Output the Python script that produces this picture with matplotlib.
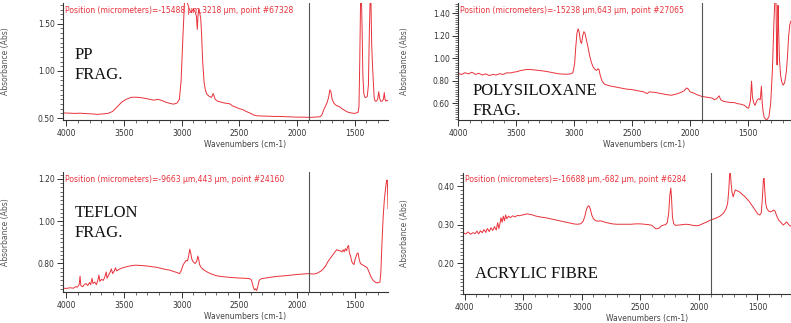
import numpy as np
import matplotlib
matplotlib.use('Agg')
import matplotlib.pyplot as plt
from matplotlib.ticker import MultipleLocator, FormatStrFormatter

# ---- spectra (wavenumber cm-1, absorbance) ----
pp_wn = [4030, 3980, 3930, 3880, 3830, 3780, 3730, 3680, 3640, 3600, 3560, 3520, 3480, 3440,
         3400, 3360, 3320, 3280, 3240, 3210, 3180, 3140, 3100, 3070, 3040, 3020, 3005, 2990,
         2975, 2960, 2945, 2930, 2915, 2900, 2885, 2872, 2865, 2858, 2850, 2842, 2835, 2828,
         2818, 2806, 2795, 2780, 2760, 2740, 2728, 2720, 2710, 2690, 2660, 2630, 2600, 2580,
         2560, 2530, 2500, 2470, 2440, 2410, 2380, 2350, 2300, 2250, 2200, 2150, 2100, 2050,
         2000, 1950, 1900, 1850, 1800, 1785, 1770, 1755, 1740, 1725, 1715, 1705, 1695, 1680,
         1665, 1650, 1630, 1610, 1590, 1570, 1550, 1530, 1500, 1470, 1462, 1455, 1448, 1440,
         1434, 1428, 1420, 1410, 1400, 1390, 1380, 1372, 1365, 1358, 1352, 1345, 1338, 1330,
         1322, 1310, 1300, 1290, 1284, 1275, 1260, 1250, 1242, 1236, 1228, 1220, 1212]
pp_abs = [0.555, 0.553, 0.55, 0.552, 0.548, 0.545, 0.54, 0.545, 0.55, 0.57, 0.62, 0.67, 0.70, 0.72,
          0.722, 0.718, 0.71, 0.70, 0.69, 0.70, 0.69, 0.67, 0.655, 0.648, 0.66, 0.70, 0.90, 1.35,
          1.75, 1.75, 1.70, 1.64, 1.62, 1.66, 1.63, 1.58, 1.44, 1.60, 1.66, 1.60, 1.56, 1.40,
          1.10, 0.88, 0.80, 0.75, 0.73, 0.72, 0.76, 0.74, 0.70, 0.68, 0.67, 0.66, 0.655, 0.65,
          0.63, 0.615, 0.60, 0.59, 0.57, 0.555, 0.535, 0.525, 0.522, 0.52, 0.518, 0.518, 0.515, 0.513,
          0.51, 0.51, 0.508, 0.51, 0.515, 0.53, 0.58, 0.62, 0.66, 0.72, 0.80, 0.78, 0.70, 0.66,
          0.64, 0.63, 0.62, 0.60, 0.585, 0.57, 0.56, 0.555, 0.55, 0.56, 0.62, 1.10, 1.75, 1.75,
          1.40, 0.95, 0.76, 0.72, 0.72, 0.73, 0.85, 1.40, 1.75, 1.75, 1.30, 1.07, 0.90, 0.72,
          0.68, 0.68, 0.70, 0.78, 0.72, 0.68, 0.68, 0.70, 0.77, 0.70, 0.68, 0.69, 0.685]

si_wn = [4000, 3970, 3940, 3910, 3880, 3850, 3820, 3790, 3760, 3730, 3700, 3670, 3640, 3610,
         3580, 3550, 3520, 3490, 3460, 3430, 3400, 3370, 3340, 3300, 3260, 3220, 3180, 3140,
         3100, 3060, 3030, 3010, 2995, 2985, 2975, 2965, 2955, 2945, 2935, 2925, 2915, 2905,
         2895, 2880, 2865, 2850, 2835, 2820, 2805, 2795, 2785, 2775, 2760, 2740, 2700, 2650,
         2600, 2550, 2500, 2450, 2400, 2370, 2350, 2300, 2250, 2200, 2160, 2120, 2080, 2050,
         2030, 2015, 2000, 1970, 1940, 1900, 1870, 1840, 1810, 1790, 1770, 1750, 1735, 1710,
         1680, 1650, 1620, 1590, 1560, 1530, 1510, 1495, 1480, 1470, 1462, 1450, 1440, 1425,
         1410, 1395, 1385, 1378, 1370, 1360, 1345, 1335, 1320, 1305, 1290, 1278, 1268, 1260,
         1254, 1250, 1246, 1242, 1238, 1230, 1220, 1210, 1198, 1185, 1170, 1160, 1150, 1140, 1130]
si_abs = [0.865, 0.855, 0.87, 0.86, 0.875, 0.855, 0.865, 0.85, 0.86, 0.845, 0.855, 0.85, 0.862, 0.855,
          0.87, 0.868, 0.875, 0.88, 0.89, 0.895, 0.90, 0.898, 0.895, 0.89, 0.885, 0.878, 0.87, 0.862,
          0.858, 0.857, 0.86, 0.87, 0.95, 1.10, 1.22, 1.26, 1.23, 1.15, 1.13, 1.20, 1.235, 1.22,
          1.17, 1.10, 1.02, 0.96, 0.92, 0.90, 0.89, 0.905, 0.90, 0.85, 0.80, 0.77, 0.755, 0.745,
          0.735, 0.725, 0.72, 0.71, 0.70, 0.685, 0.70, 0.695, 0.685, 0.675, 0.67, 0.68, 0.695, 0.71,
          0.735, 0.725, 0.70, 0.69, 0.675, 0.66, 0.655, 0.65, 0.645, 0.63, 0.64, 0.665, 0.63, 0.615,
          0.61, 0.605, 0.605, 0.595, 0.59, 0.58, 0.56, 0.555, 0.62, 0.795, 0.65, 0.60, 0.58, 0.62,
          0.64, 0.63, 0.75, 0.60, 0.52, 0.47, 0.455, 0.455, 0.48, 0.60, 0.90, 1.30, 1.55, 1.55,
          1.10, 0.94, 1.20, 1.47, 1.30, 1.00, 0.85, 0.79, 0.76, 0.78, 0.88, 1.02, 1.20, 1.30, 1.33]

pt_wn = [4030, 4000, 3970, 3940, 3920, 3905, 3890, 3882, 3875, 3860, 3845, 3830, 3815, 3800,
         3790, 3778, 3770, 3755, 3740, 3728, 3718, 3710, 3695, 3680, 3668, 3655, 3648, 3635,
         3620, 3610, 3600, 3585, 3575, 3565, 3545, 3520, 3490, 3460, 3430, 3400, 3370, 3340,
         3300, 3260, 3220, 3180, 3140, 3100, 3070, 3040, 3020, 3005, 2990, 2975, 2960, 2950,
         2940, 2930, 2920, 2912, 2900, 2885, 2870, 2860, 2852, 2845, 2830, 2810, 2780, 2750,
         2700, 2650, 2600, 2550, 2500, 2450, 2410, 2395, 2380, 2370, 2360, 2350, 2340, 2328,
         2310, 2250, 2200, 2150, 2100, 2050, 2000, 1950, 1900, 1850, 1820, 1790, 1770, 1750,
         1730, 1710, 1690, 1670, 1655, 1640, 1625, 1610, 1600, 1590, 1580, 1570, 1560, 1552,
         1545, 1535, 1525, 1515, 1505, 1495, 1480, 1470, 1460, 1450, 1435, 1420, 1405, 1390,
         1375, 1360, 1345, 1330, 1315, 1300, 1290, 1280, 1272, 1262, 1252, 1242, 1232, 1224,
         1218, 1214, 1210]
pt_abs = [0.683, 0.682, 0.685, 0.683, 0.69, 0.688, 0.70, 0.74, 0.695, 0.69, 0.70, 0.705, 0.695, 0.71,
          0.70, 0.73, 0.705, 0.712, 0.70, 0.72, 0.745, 0.715, 0.725, 0.72, 0.735, 0.76, 0.73, 0.745,
          0.76, 0.775, 0.752, 0.765, 0.78, 0.765, 0.772, 0.778, 0.783, 0.787, 0.79, 0.792, 0.791, 0.79,
          0.788, 0.785, 0.782, 0.777, 0.772, 0.768, 0.762, 0.757, 0.752, 0.765, 0.79, 0.805, 0.815, 0.812,
          0.835, 0.868, 0.845, 0.82, 0.808, 0.80, 0.81, 0.835, 0.818, 0.795, 0.78, 0.77, 0.76, 0.752,
          0.742, 0.738, 0.735, 0.733, 0.731, 0.73, 0.728, 0.722, 0.69, 0.675, 0.68, 0.672, 0.69, 0.72,
          0.728, 0.733, 0.737, 0.74, 0.742, 0.745, 0.748, 0.75, 0.752, 0.75, 0.755, 0.765, 0.775, 0.79,
          0.81, 0.825, 0.84, 0.855, 0.865, 0.862, 0.86, 0.855, 0.865, 0.855, 0.87, 0.86, 0.88, 0.885,
          0.85, 0.835, 0.81, 0.80, 0.795, 0.82, 0.845, 0.85, 0.82, 0.80, 0.795, 0.79, 0.785, 0.78,
          0.76, 0.74, 0.725, 0.715, 0.71, 0.708, 0.71, 0.712, 0.76, 0.90, 1.02, 1.10, 1.15, 1.185,
          1.195, 1.17, 1.06]

ac_wn = [4014, 3990, 3970, 3950, 3930, 3910, 3895, 3880, 3865, 3850, 3835, 3820, 3805, 3790,
         3775, 3760, 3745, 3730, 3718, 3708, 3700, 3690, 3680, 3670, 3660, 3650, 3640, 3625,
         3610, 3590, 3570, 3550, 3530, 3510, 3490, 3470, 3450, 3430, 3410, 3390, 3370, 3340,
         3310, 3280, 3250, 3220, 3190, 3160, 3130, 3100, 3070, 3040, 3010, 2990, 2975, 2960,
         2945, 2935, 2925, 2915, 2900, 2880, 2860, 2840, 2820, 2800, 2770, 2740, 2700, 2660,
         2620, 2580, 2540, 2500, 2460, 2430, 2400, 2380, 2365, 2350, 2335, 2320, 2300, 2285,
         2270, 2258, 2248, 2240, 2234, 2226, 2216, 2200, 2170, 2140, 2110, 2080, 2050, 2020,
         2000, 1970, 1940, 1900, 1860, 1820, 1790, 1770, 1755, 1745, 1738, 1732, 1726, 1718,
         1708, 1700, 1690, 1675, 1660, 1645, 1630, 1615, 1600, 1585, 1570, 1555, 1540, 1525,
         1510, 1495, 1480, 1468, 1458, 1450, 1444, 1438, 1430, 1420, 1405, 1390, 1375, 1362,
         1350, 1335, 1320, 1305, 1290, 1280, 1265, 1252, 1240, 1228, 1214]
ac_abs = [0.279, 0.276, 0.281, 0.275, 0.279, 0.277, 0.283, 0.276, 0.284, 0.279, 0.287, 0.28, 0.29, 0.282,
          0.292, 0.285, 0.295, 0.286, 0.305, 0.29, 0.30, 0.318, 0.306, 0.322, 0.31, 0.325, 0.315, 0.322,
          0.318, 0.323, 0.32, 0.324, 0.323, 0.325, 0.326, 0.328, 0.327, 0.326, 0.324, 0.322, 0.321, 0.319,
          0.318, 0.316, 0.314, 0.312, 0.31, 0.308, 0.306, 0.304, 0.302, 0.301, 0.302, 0.308, 0.32, 0.34,
          0.349, 0.347, 0.338, 0.325, 0.315, 0.31, 0.309, 0.31, 0.308, 0.306, 0.304, 0.302, 0.301, 0.301,
          0.301, 0.301, 0.302, 0.302, 0.301, 0.30, 0.298, 0.292, 0.289, 0.29, 0.292, 0.297, 0.299, 0.30,
          0.305, 0.33, 0.378, 0.395, 0.37, 0.32, 0.303, 0.298, 0.299, 0.30, 0.301, 0.30, 0.298, 0.297,
          0.298, 0.302, 0.306, 0.312, 0.316, 0.322, 0.33, 0.34, 0.355, 0.39, 0.43, 0.437, 0.41, 0.385,
          0.372, 0.38, 0.39, 0.388, 0.386, 0.383, 0.378, 0.375, 0.37, 0.365, 0.36, 0.353, 0.347, 0.34,
          0.333, 0.327, 0.325, 0.33, 0.37, 0.415, 0.42, 0.39, 0.355, 0.342, 0.335, 0.333, 0.335, 0.338,
          0.335, 0.322, 0.312, 0.307, 0.302, 0.299, 0.303, 0.307, 0.303, 0.298, 0.296]

names = ['PP\nFRAG.', 'POLYSILOXANE\nFRAG.', 'TEFLON\nFRAG.', 'ACRYLIC FIBRE']
positions = ['Position (micrometers)=-15488 \u00b5m,3218 \u00b5m, point #67328',
             'Position (micrometers)=-15238 \u00b5m,643 \u00b5m, point #27065',
             'Position (micrometers)=-9663 \u00b5m,443 \u00b5m, point #24160',
             'Position (micrometers)=-16688 \u00b5m,-682 \u00b5m, point #6284']

W, H = 791, 323
fig = plt.figure(figsize=(W / 100, H / 100), dpi=100)
red = '#e8313a'

# (left, top, right, bottom) in pixels, xlim, ylim, y major/minor step,
# label spot, x of the y-label centre
panels = [
    (pp_wn, pp_abs, (63, 3, 388, 120), (4030, 1210), (0.48, 1.72), 0.5, 0.05, (75, 47), 6),
    (si_wn, si_abs, (458, 3, 791, 120), (4000, 1130), (0.45, 1.49), 0.2, 0.02, (473, 83), 405),
    (pt_wn, pt_abs, (63, 172, 388, 292), (4030, 1210), (0.665, 1.233), 0.2, 0.02, (75, 205), 6),
    (ac_wn, ac_abs, (463, 173, 791, 294), (4014, 1214), (0.12, 0.434), 0.1, 0.01, (475, 266), 405),
]

for i, (wn, ab, box, xl, yl, ymaj, ymin, lab, ylx) in enumerate(panels):
    l, t, r, b = box
    ax = fig.add_axes([l / W, 1 - b / H, (r - l) / W, (b - t) / H])
    ax.plot(wn, ab, color=red, lw=0.7)
    ax.axvline(1895, color='#555555', lw=0.8)
    ax.set_xlim(*xl)
    ax.set_ylim(*yl)
    for s in ['top', 'right']:
        ax.spines[s].set_visible(False)
    for s in ['left', 'bottom']:
        ax.spines[s].set_color('#333333')
        ax.spines[s].set_linewidth(0.8)
    ax.xaxis.set_major_locator(MultipleLocator(500))
    ax.xaxis.set_minor_locator(MultipleLocator(100))
    ax.yaxis.set_major_locator(MultipleLocator(ymaj))
    ax.yaxis.set_minor_locator(MultipleLocator(ymin))
    ax.yaxis.set_major_formatter(FormatStrFormatter('%.2f'))
    ax.xaxis.set_major_formatter(FormatStrFormatter('%d'))
    ax.tick_params(which='major', length=4, width=0.7, color='#333333', labelsize=5.5,
                   labelcolor='#333333')
    ax.tick_params(which='minor', length=2, width=0.5, color='#333333')
    ax.tick_params(axis='x', which='major', pad=2.4)
    ax.tick_params(axis='y', which='major', pad=2)
    wpx, hpx = r - l, b - t
    ax.set_xlabel('Wavenumbers (cm-1)', fontsize=5.5, color='#444444')
    ax.xaxis.set_label_coords(0.5 + 20 / wpx, -19.5 / hpx)
    ax.set_ylabel('Absorbance (Abs)', fontsize=5.5, color='#555555')
    ax.yaxis.set_label_coords((ylx + 4 - l) / wpx, 0.5)
    ax.text(2 / wpx, 1 - 7 / hpx, positions[i], transform=ax.transAxes, color=red,
            fontsize=5.5, va='center', ha='left')
    fig.text(lab[0] / W, 1 - lab[1] / H, names[i], fontsize=12, family='Liberation Serif',
             va='top', ha='left', linespacing=1.35, color='#111111')

fig.savefig('out.png', dpi=100)
